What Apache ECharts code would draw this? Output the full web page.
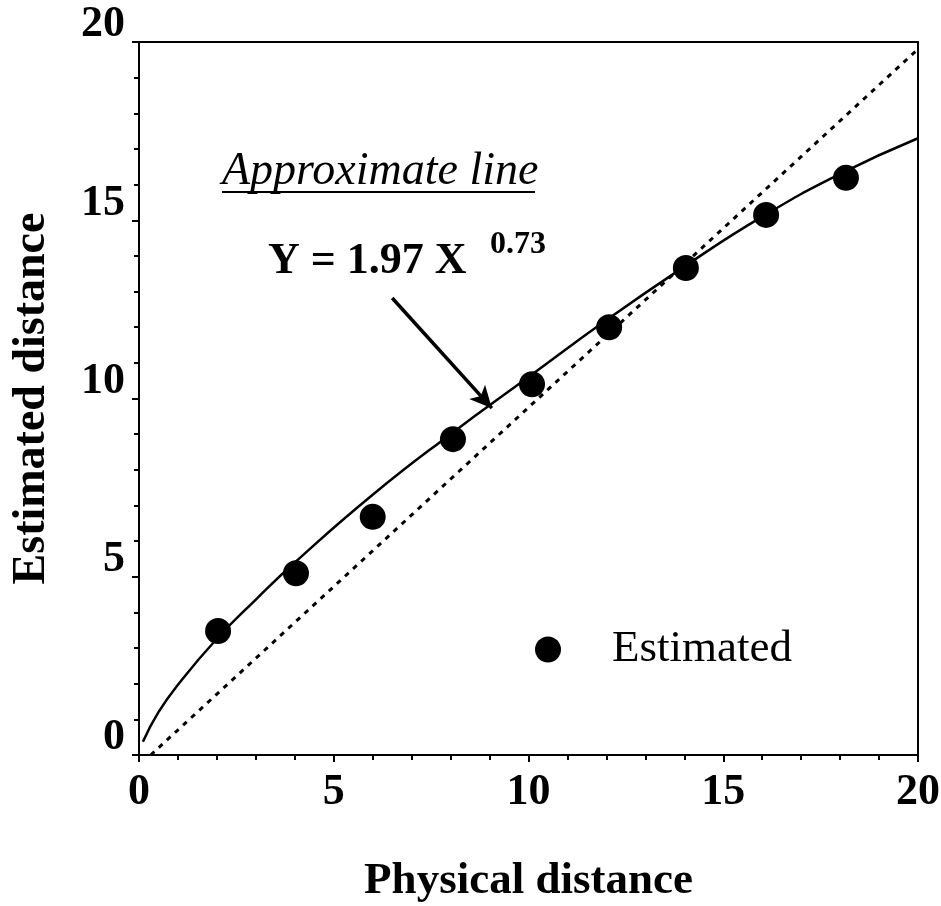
<!DOCTYPE html>
<html lang="en">
<head>
    <meta charset="UTF-8">
    <title>estimated_distance</title>
    <style type="text/css">
        html, body { margin: 0; padding: 0; background: #fff; }
        #box { width: 941px; height: 906px; }
    </style>
</head>
<body>
<div id="box"></div>
<script type="text/javascript" src="https://cdn.jsdelivr.net/npm/echarts@6/dist/echarts.min.js"></script>
<script type="text/javascript">
    const physX = [2.03, 4.03, 6.0, 8.06, 10.09, 12.07, 14.04, 16.1, 18.15];
    const estY = [3.48, 5.1, 6.68, 8.86, 10.4, 12.0, 13.66, 15.15, 16.19];

    // approximate line, points
    const fitX = [0.1, 0.5, 1, 2, 3, 4, 6, 8, 10, 12, 14, 16, 18, 20];
    const fitY = [0.37, 1.2, 1.97, 3.26, 4.36, 5.4, 7.3, 9.0, 10.6, 12.2, 13.7, 15.1, 16.3, 17.3];

    // dotted reference line (equal distance)
    const refX = [0.3, 20];
    const refY = [0, 19.8];

    const xTicks = [0, 5, 10, 15, 20];
    const yTicks = [0, 5, 10, 15, 20];

    const serif = '"Liberation Serif", "DejaVu Serif", serif';

    function zip(a, b) {
        return a.map(function (v, i) { return [v, b[i]]; });
    }

    let myChart = echarts.init(document.getElementById('box'));
    let option = {
        animation: false,
        backgroundColor: '#fff',
        grid: {
            left: 139, top: 42, width: 779, height: 713,
            outerBoundsMode: 'none', containLabel: false,
            show: true, borderColor: '#000', borderWidth: 2
        },
        xAxis: {
            type: 'value', min: 0, max: 20, interval: 5,
            name: 'Physical distance', nameLocation: 'middle', nameGap: 104,
            nameTextStyle: { fontFamily: serif, fontWeight: 'bold', fontSize: 45, color: '#000' },
            axisLine: { lineStyle: { color: '#000', width: 2 } },
            axisTick: { inside: false, length: 7, lineStyle: { color: '#000', width: 2 } },
            minorTick: { show: true, splitNumber: 5, length: 5, lineStyle: { color: '#000', width: 2 } },
            splitLine: { show: false },
            axisLabel: {
                margin: 16, fontFamily: serif, fontWeight: 'bold', fontSize: 44, color: '#000',
                formatter: function (v) { return xTicks.indexOf(v) >= 0 ? String(v) : ''; }
            }
        },
        yAxis: {
            type: 'value', min: 0, max: 20, interval: 5,
            name: 'Estimated distance', nameLocation: 'middle', nameGap: 84,
            nameTextStyle: { fontFamily: serif, fontWeight: 'bold', fontSize: 46, color: '#000' },
            axisLine: { lineStyle: { color: '#000', width: 2 } },
            axisTick: { inside: false, length: 7, lineStyle: { color: '#000', width: 2 } },
            minorTick: { show: true, splitNumber: 5, length: 5, lineStyle: { color: '#000', width: 2 } },
            splitLine: { show: false },
            axisLabel: {
                margin: 14, fontFamily: serif, fontWeight: 'bold', fontSize: 44, color: '#000',
                verticalAlign: 'bottom', lineHeight: 34,
                formatter: function (v) { return yTicks.indexOf(v) >= 0 ? String(v) : ''; }
            }
        },
        legend: {
            left: 530, top: 622,
            itemWidth: 26, itemHeight: 26, itemGap: 10,
            textStyle: { fontFamily: serif, fontSize: 45, color: '#000', padding: [0, 0, 0, 46] },
            data: [{ name: 'Estimated', icon: 'circle' }]
        },
        series: [
            {
                name: 'Equal',
                type: 'line',
                data: zip(refX, refY),
                symbol: 'none',
                lineStyle: { color: '#000', width: 3, type: [5, 6] },
                silent: true
            },
            {
                name: 'Approximate',
                type: 'line',
                data: zip(fitX, fitY),
                smooth: true,
                symbol: 'none',
                lineStyle: { color: '#000', width: 2.5 },
                silent: true,
                markLine: {
                    silent: true,
                    symbol: ['none', 'arrow'],
                    symbolSize: [16, 22],
                    label: { show: false },
                    lineStyle: { color: '#000', width: 3.5, type: 'solid' },
                    data: [[{ coord: [6.5, 12.82] }, { coord: [9.06, 9.73] }]]
                }
            },
            {
                name: 'Estimated',
                type: 'scatter',
                data: zip(physX, estY),
                symbol: 'circle',
                symbolSize: 26,
                itemStyle: { color: '#000', opacity: 1 },
                z: 5
            }
        ],
        graphic: [
            {
                type: 'text', left: 222, top: 149,
                style: { text: 'Approximate line', font: 'italic 46px ' + serif, fill: '#000' }
            },
            {
                type: 'rect', left: 222, top: 191,
                shape: { width: 313, height: 2 },
                style: { fill: '#000' }
            },
            {
                type: 'text', left: 268, top: 240,
                style: { text: 'Y = 1.97 X', font: 'bold 44px ' + serif, fill: '#000' }
            },
            {
                type: 'text', left: 490, top: 229,
                style: { text: '0.73', font: 'bold 32px ' + serif, fill: '#000' }
            }
        ]
    };
    myChart.setOption(option);
</script>
</body>
</html>
